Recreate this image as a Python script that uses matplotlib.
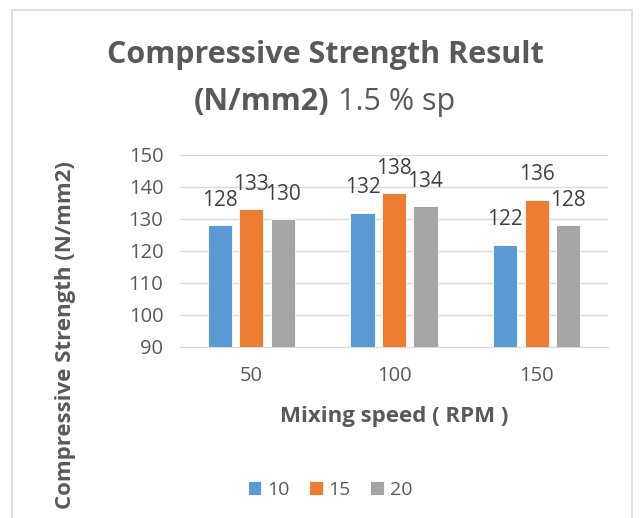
import matplotlib
matplotlib.use("Agg")
from matplotlib import pyplot as plt
from matplotlib.patches import Rectangle
import numpy as np

speeds = ["50", "100", "150"]
series = ["10", "15", "20"]
vals_10 = [128, 132, 122]
vals_15 = [133, 138, 136]
vals_20 = [130, 134, 128]
colors = ["#5B9BD5", "#ED7D31", "#A5A5A5"]

plt.rcParams['font.family'] = ['Open Sans', 'DejaVu Sans']
txt = "#595959"

fig = plt.figure(figsize=(6.4, 5.18), dpi=100)
ax = fig.add_axes([180/640, 1 - 347/518, 428/640, 192/518])

# chart border
fig.patches.append(Rectangle((12/640, -0.01), 620/640, 1 - 10/518 + 0.01, transform=fig.transFigure,
                             fill=False, edgecolor="#D9D9D9", linewidth=1.2))

x = np.arange(len(speeds))
w = 0.17
off = 0.22
for i, (vals, lab) in enumerate(zip([vals_10, vals_15, vals_20], series)):
    bars = ax.bar(x + (i - 1) * off, vals, w, color=colors[i], label=lab, edgecolor="white", linewidth=0.6, zorder=3)
    for b, v in zip(bars, vals):
        ax.annotate(str(v), (b.get_x() + b.get_width() / 2, v), xytext=(0, 18), textcoords="offset points",
                    ha="center", va="center", fontsize=15, color="#404040")

ax.set_ylim(90, 150)
ax.set_yticks(range(90, 151, 10))
ax.set_xlim(-0.5, 2.5)
ax.set_xticks(x)
ax.set_xticklabels(speeds)
ax.grid(axis="y", color="#D9D9D9", linewidth=1, zorder=0)
for s in ["top", "right", "left"]:
    ax.spines[s].set_visible(False)
ax.spines["bottom"].set_color("#D9D9D9")
ax.tick_params(length=0, labelsize=14.5, labelcolor=txt)
ax.tick_params(axis="y", pad=12)
ax.tick_params(axis="x", pad=14)

ax.set_xlabel("Mixing speed ( RPM )", fontsize=16, fontweight="bold", color=txt, labelpad=14)
fig.text(66/640, 1 - 335/518, "Compressive Strength (N/mm2)", rotation=90, ha="center", va="center",
         fontsize=16, fontweight="bold", color=txt)

fig.text(325/640, 1 - 55/518, "Compressive Strength Result", ha="center", va="center",
         fontsize=22, fontweight="bold", color=txt)
fig.text(329/640, 1 - 102/518, "(N/mm2)", ha="right", va="center",
         fontsize=22, fontweight="bold", color=txt)
fig.text(338/640, 1 - 102/518, "1.5 % sp", ha="left", va="center",
         fontsize=22, color=txt)

fig.legend(loc="center", bbox_to_anchor=(330/640, 1 - 490/518), ncol=3, frameon=False,
           fontsize=14, handlelength=0.7, handleheight=0.7, handletextpad=0.3, columnspacing=1.0,
           labelcolor=txt)

fig.savefig("out.png", dpi=100)
